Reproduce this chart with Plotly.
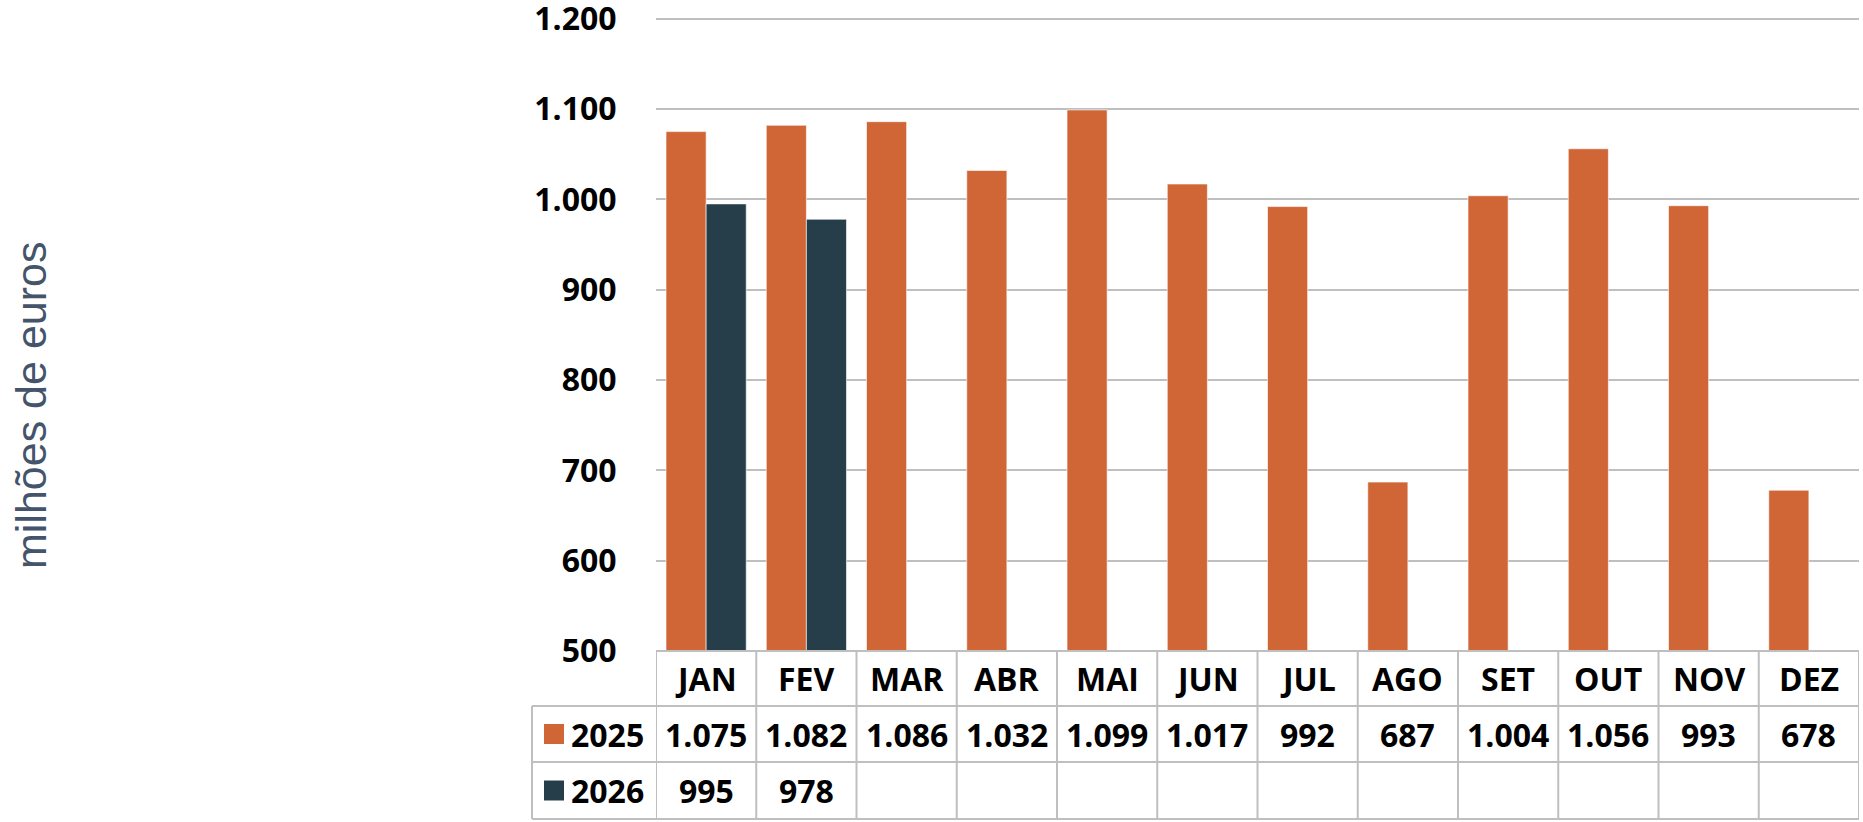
import plotly.graph_objects as go

months = ["JAN", "FEV", "MAR", "ABR", "MAI", "JUN", "JUL", "AGO", "SET", "OUT", "NOV", "DEZ"]
series_names = ["2025", "2026"]
values_2025 = [1075, 1082, 1086, 1032, 1099, 1017, 992, 687, 1004, 1056, 993, 678]
values_2026 = [995, 978, None, None, None, None, None, None, None, None, None, None]
colors = ["#D06536", "#263E4A"]
y_ticks = [500, 600, 700, 800, 900, 1000, 1100, 1200]
y_title = "milhões de euros"

W, H = 1863, 822
Y_MIN, Y_MAX = 500, 1203
L, R, T, B = 656, 4, 16, 171
pw, ph = W - L - R, H - T - B

def px_x(px):
    return (px - L) / pw

def px_y(py):
    return (H - B - py) / ph

def fmt(v):
    return "" if v is None else f"{v:,}".replace(",", ".")

FONT = "Open Sans"
FS = 32
fig = go.Figure()
for name, vals, c in zip(series_names, [values_2025, values_2026], colors):
    fig.add_trace(go.Bar(x=months, y=vals, name=name, marker=dict(color=c, line=dict(color="rgba(255,255,255,0.6)", width=1)),
                         showlegend=False, hoverinfo="skip"))

grid = "#BFBFBF"
row_edges = [651, 706, 762, 819]
left_px = 532
shapes = []
shapes.append(dict(type="line", xref="x", yref="paper", x0=-0.5, x1=len(months) - 0.5,
                   y0=px_y(row_edges[0]), y1=px_y(row_edges[0]), line=dict(color=grid, width=2)))
for r in row_edges[1:]:
    shapes.append(dict(type="line", xref="paper", yref="paper", x0=px_x(left_px), x1=1,
                       y0=px_y(r), y1=px_y(r), line=dict(color=grid, width=2)))
for i in range(len(months) + 1):
    shapes.append(dict(type="line", xref="x", yref="paper", x0=i - 0.5, x1=i - 0.5,
                       y0=px_y(row_edges[0]), y1=px_y(row_edges[-1]), line=dict(color=grid, width=2)))
shapes.append(dict(type="line", xref="paper", yref="paper", x0=px_x(left_px), x1=px_x(left_px),
                   y0=px_y(row_edges[1]), y1=px_y(row_edges[-1]), line=dict(color=grid, width=2)))

annotations = []
tfont = dict(family=FONT, size=FS, color="#000000", weight="bold")
hdr_c = px_y((row_edges[0] + row_edges[1]) / 2)
for m in months:
    annotations.append(dict(x=m, y=hdr_c, xref="x", yref="paper", text=m, showarrow=False,
                            font=tfont, xanchor="center", yanchor="middle"))
for k, (name, vals, c) in enumerate(zip(series_names, [values_2025, values_2026], colors)):
    yc = px_y((row_edges[k + 1] + row_edges[k + 2]) / 2)
    for m, v in zip(months, vals):
        if v is not None:
            annotations.append(dict(x=m, y=yc, xref="x", yref="paper", text=fmt(v), showarrow=False,
                                    font=tfont, xanchor="center", yanchor="middle"))
    shapes.append(dict(type="rect", xref="paper", yref="paper", xsizemode="pixel", ysizemode="pixel",
                       xanchor=px_x(554), yanchor=yc, x0=-10, x1=10, y0=-10, y1=10,
                       fillcolor=c, line=dict(width=0)))
    annotations.append(dict(x=px_x(569), y=yc, xref="paper", yref="paper", text=name, showarrow=False,
                            font=tfont, xanchor="left", yanchor="middle"))

annotations.append(dict(x=px_x(31), y=px_y(406), xref="paper", yref="paper", text=y_title, showarrow=False,
                        textangle=-90, font=dict(family="Liberation Sans", size=43, color="#44546A"),
                        xanchor="center", yanchor="middle"))

fig.update_layout(
    width=W, height=H,
    margin=dict(l=L, r=R, t=T, b=B, autoexpand=False),
    paper_bgcolor="white", plot_bgcolor="white",
    barmode="group", bargap=0.2, bargroupgap=0,
    separators=",.",
    shapes=shapes, annotations=annotations,
)
fig.update_xaxes(showticklabels=False, showgrid=False, showline=False, zeroline=False, ticks="",
                 range=[-0.5, len(months) - 0.5])
fig.update_yaxes(range=[Y_MIN, Y_MAX], tickvals=y_ticks, tickformat=",d", showgrid=True, gridcolor=grid, gridwidth=2,
                 zeroline=False, showline=False, ticks="outside", ticklen=32, tickcolor="rgba(0,0,0,0)",
                 ticklabeloverflow="allow",
                 tickfont=dict(family=FONT, size=FS, color="#000000", weight="bold"))
fig.write_html("out.html", config={"displayModeBar": False},
               post_script="document.body.style.margin='0';document.body.style.overflow='hidden';")
